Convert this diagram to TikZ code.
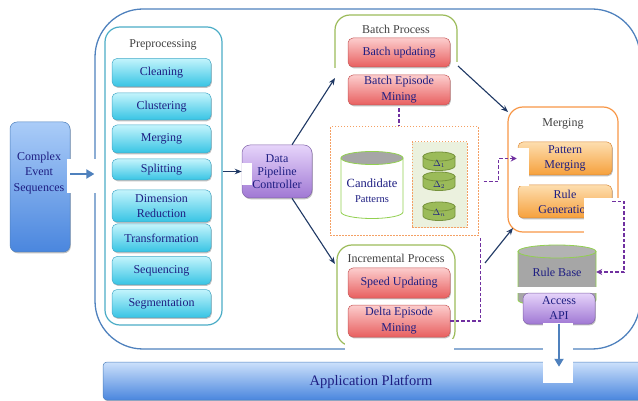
\documentclass[tikz,border=0pt]{standalone}
\usepackage{fontspec}
\setmainfont{Liberation Serif}
\usetikzlibrary{shadows,arrows.meta,calc}
\definecolor{outerblue}{RGB}{79,129,189}
\definecolor{tealc}{RGB}{75,172,198}
\definecolor{greenc}{RGB}{155,187,89}
\definecolor{orangec}{RGB}{247,150,70}
\definecolor{txtblue}{RGB}{30,30,130}
\definecolor{titlegray}{RGB}{64,64,64}
\definecolor{navyarrow}{RGB}{31,56,100}
\definecolor{purpled}{RGB}{112,48,160}
\definecolor{cyanT}{RGB}{195,244,252}
\definecolor{cyanB}{RGB}{55,196,228}
\definecolor{cyanD}{RGB}{70,170,200}
\definecolor{redT}{RGB}{252,205,205}
\definecolor{redB}{RGB}{232,95,95}
\definecolor{redD}{RGB}{200,90,90}
\definecolor{orT}{RGB}{253,222,175}
\definecolor{orB}{RGB}{246,160,60}
\definecolor{orD}{RGB}{220,140,60}
\definecolor{puT}{RGB}{230,212,250}
\definecolor{puB}{RGB}{160,120,212}
\definecolor{puD}{RGB}{130,100,170}
\definecolor{blT}{RGB}{170,204,248}
\definecolor{blB}{RGB}{74,134,222}
\definecolor{dotor}{RGB}{244,160,100}
\definecolor{palegreen}{RGB}{235,241,222}
\definecolor{litegreen}{RGB}{146,208,80}
\definecolor{darkgreen}{RGB}{118,146,60}
\definecolor{cylgray}{RGB}{166,166,166}
\newcommand\mycyl[8]{%
  \filldraw[draw=#8, fill=#6, line width=0.8pt] (#1-#2,#3) -- (#1-#2,#4)
    arc[start angle=180,end angle=360,x radius=#2pt,y radius=#5pt] -- (#1+#2,#3) -- cycle;
  \filldraw[draw=#8, fill=#7, line width=0.8pt] (#1,#3) ellipse[x radius=#2pt, y radius=#5pt];
}
\tikzset{
  shad/.style={drop shadow={shadow xshift=0.8pt,shadow yshift=-1.3pt,opacity=0.35,fill=black!70}},
  basebox/.style={rounded corners=5pt, draw, line width=0.5pt, text=txtblue, align=center,
     inner sep=1pt, font=\fontsize{12}{15}\selectfont, shad},
  cyanbox/.style={basebox, draw=cyanD, top color=cyanT, bottom color=cyanB, minimum width=99pt, minimum height=28pt},
  redbox/.style={basebox, draw=redD, top color=redT, bottom color=redB, minimum width=102pt, minimum height=30pt},
  orbox/.style={basebox, draw=orD, top color=orT, bottom color=orB, minimum width=94pt, minimum height=33pt},
  pubox/.style={basebox, draw=puD, top color=puT, bottom color=puB},
  title/.style={text=titlegray, font=\fontsize{12}{14}\selectfont},
  navyarr/.style={draw=navyarrow, line width=1.1pt, -{Stealth[length=7pt,width=5.5pt]}},
  bluearr/.style={draw=outerblue, line width=2.4pt, -{Triangle[length=8pt,width=9pt]}},
  purparr/.style={draw=purpled, line width=1.6pt, dash pattern=on 3.5pt off 2pt},
  dotbox/.style={draw=dotor, line width=1pt, dash pattern=on 1.5pt off 1.5pt},
}
\begin{document}
\begin{tikzpicture}[x=1pt,y=-1pt]
\useasboundingbox (0,0) rectangle (638,401);
\begin{scope}
\clip (0,0) rectangle (638,401);
% outer container
\node[draw=outerblue, line width=1.3pt, rounded corners=48pt, minimum width=545pt, minimum height=340pt, inner sep=0pt] (outer) at (367.5,179) {};
% application platform
\node[rounded corners=4pt, draw=outerblue, line width=0.5pt, top color=blT!60!white, bottom color=blB, minimum width=560pt, minimum height=38pt, shad] (app) at (383,381) {};
\node[text=txtblue, font=\fontsize{14.5}{16}\selectfont] (apptext) at (371,382) {Application Platform};
% complex event sequences
\node[basebox, draw=outerblue, top color=blT, bottom color=blB, minimum width=60pt, minimum height=130pt, rounded corners=7pt] (cplx) at (40,187) {};
\node[text=txtblue, align=center, font=\fontsize{12}{15.5}\selectfont] (cplxtext) at (39,173) {Complex\\Event\\Sequences};
% preprocessing
\node[draw=tealc, line width=1.2pt, rounded corners=15pt, minimum width=117pt, minimum height=298pt, inner sep=0pt] (pp) at (163.5,176) {};
\node[title] (pptitle) at (163,45) {Preprocessing};
\node[cyanbox] (clean) at (161.5,72.5) {Cleaning};
\node[cyanbox, minimum height=27pt] (clust) at (161.5,106.5) {Clustering};
\node[cyanbox] (merg) at (161.5,139) {Merging};
\node[cyanbox, minimum height=21pt] (split) at (161.5,169.5) {Splitting};
\node[cyanbox, minimum height=32pt] (dimred) at (161.5,206) {Dimension\\Reduction};
\node[cyanbox] (trans) at (161.5,238) {Transformation};
\node[cyanbox] (seqc) at (161.5,270.5) {Sequencing};
\node[cyanbox] (segm) at (161.5,303.5) {Segmentation};
% data pipeline controller
\node[pubox, minimum width=70pt, minimum height=53pt, rounded corners=8pt, font=\fontsize{12}{13}\selectfont] (dp) at (277,171.5) {Data\\Pipeline\\Controller};
% batch process
\draw[greenc, line width=1.2pt, rounded corners=15pt] (335,68) -- (335,15) -- (457,15) -- (457,62);
\node[title] (bptitle) at (396,29) {Batch Process};
\node[redbox, minimum height=29pt] (bupd) at (399,52.5) {Batch updating};
\node[redbox, font=\fontsize{12}{16}\selectfont] (bem) at (399,90) {Batch Episode\\Mining};
% incremental process
\node[draw=greenc, line width=1.2pt, rounded corners=15pt, minimum width=118pt, minimum height=101pt, inner sep=0pt] (incr) at (396,295.5) {};
\node[title] (iptitle) at (396,258) {Incremental Process};
\node[redbox] (supd) at (399,283) {Speed Updating};
\node[redbox, minimum height=32pt, font=\fontsize{12}{16}\selectfont] (dem) at (399,321) {Delta Episode\\Mining};
% candidate area
\node[dotbox, minimum width=148pt, minimum height=109pt, inner sep=0pt] (cand) at (404,181.5) {};
\node[dotbox, fill=palegreen, minimum width=55pt, minimum height=86pt, inner sep=0pt] (deltas) at (439.5,185) {};
\mycyl{372}{31}{158}{212}{6.5}{white}{cylgray}{litegreen}
\node[text=txtblue, font=\fontsize{12.5}{14}\selectfont] (candt) at (372,183) {Candidate};
\node[text=txtblue, font=\fontsize{10.5}{12}\selectfont] (patt) at (372,199) {Patterns};
\mycyl{439}{16}{156.5}{166}{4.5}{greenc}{greenc}{darkgreen}
\mycyl{439}{16}{176.5}{186}{4.5}{greenc}{greenc}{darkgreen}
\mycyl{439}{16}{206.5}{216}{4.5}{greenc}{greenc}{darkgreen}
\node[text=txtblue, font=\fontsize{9}{10}\selectfont] (d1) at (439,164) {$\Delta_1$};
\node[text=txtblue, font=\fontsize{9}{10}\selectfont] (d2) at (439,185) {$\Delta_2$};
\node[text=txtblue, font=\fontsize{9}{10}\selectfont] (dn) at (439,213) {$\Delta_n$};
% merging
\node[draw=orangec, line width=1.2pt, rounded corners=15pt, minimum width=110pt, minimum height=125pt, inner sep=0pt] (mergc) at (563,169.5) {};
\node[title] (mtitle) at (563,124) {Merging};
\node[orbox] (pm) at (565,158.5) {Pattern\\Merging};
\node[orbox] (rg) at (565,201.5) {Rule\\Generation};
% rule base
\mycyl{557}{39}{251.5}{300}{6.5}{cylgray}{cylgray!85!white}{litegreen}
\node[text=txtblue, minimum width=78pt, font=\fontsize{12}{14}\selectfont] (rb) at (557,272) {Rule Base};
\fill[white] (514,287) rectangle (602,293);
\node[pubox, minimum width=72pt, minimum height=31pt, rounded corners=6pt, font=\fontsize{12}{15}\selectfont] (api) at (559,308.5) {Access\\API};
% white patches
\fill[white] (67,159) rectangle (96,193);
\fill[white] (242,163) rectangle (252,185);
\fill[white] (513,148) rectangle (529,186);
\fill[white] (584,198) rectangle (623,236);
\fill[white] (543,323) rectangle (573,383);
\fill[white] (345,339) rectangle (454,351);
% connectors
\coordinate (batchin) at (335,78);
\coordinate (batchout) at (458,66);
\coordinate (incrin) at (335,264);
\coordinate (incrout) at (485,263);
\coordinate (mergin1) at (508,112);
\coordinate (mergin2) at (513,228);
\draw[bluearr] ([yshift=13pt]cplx.east) -- ([yshift=5pt]outer.west);
\draw[navyarr] (pp.east |- dp.west) -- (dp.west);
\draw[navyarr] ([xshift=15pt]dp.north) -- (batchin);
\draw[navyarr] ([xshift=15pt]dp.south) -- (incrin);
\draw[navyarr] (batchout) -- (mergin1);
\draw[navyarr] (incrout) -- (mergin2);
\draw[purparr] ([yshift=-3pt]bem.south) -- (bem.south |- cand.north);
\draw[purparr, -{Stealth[length=6pt,width=6pt,open]}] ([xshift=5pt]cand.east) -- ++(15,0) |- ([xshift=-1pt]pm.west);
\draw[purparr] (dem.east) -| ([xshift=2pt]cand.south east);
\draw[purparr, -{Stealth[length=6pt,width=6pt,open]}] (rg.east) -- ++(12,0) |- (rb.east);
\draw[bluearr] (api.south) -- ([yshift=-5pt]api.south |- app.north);
\end{scope}
\end{tikzpicture}
\end{document}
